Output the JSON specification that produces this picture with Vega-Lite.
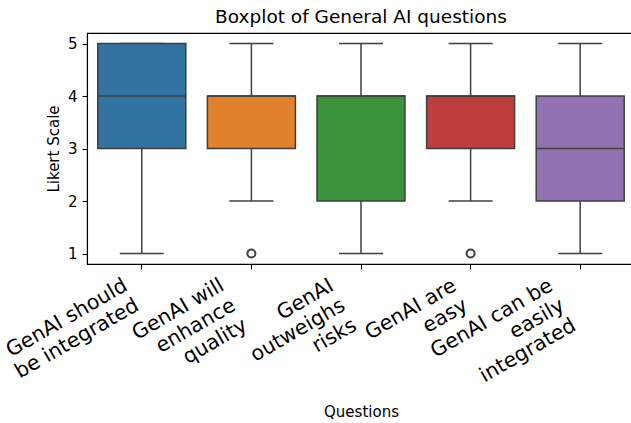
{
  "$schema": "https://vega.github.io/schema/vega-lite/v6.json",
  "width": 548,
  "height": 231,
  "autosize": {"type": "none"},
  "padding": {"left": 87, "top": 33, "right": 0, "bottom": 159},
  "title": {"text": "Boxplot of General AI questions", "fontSize": 18.5, "font": "DejaVu Sans", "fontWeight": "normal", "offset": 7, "anchor": "middle", "color": "#000000"},
  "config": {
    "font": "DejaVu Sans",
    "view": {"stroke": "#000000", "strokeWidth": 1.1},
    "axis": {"grid": false, "domainColor": "#000000", "domainWidth": 1.1, "tickColor": "#000000", "tickWidth": 1.1, "tickSize": 5, "labelColor": "#000000", "titleColor": "#000000", "labelFont": "DejaVu Sans", "titleFont": "DejaVu Sans", "titleFontWeight": "normal"}
  },
  "datasets": {
    "stats": [
      {"question": "GenAI should\nbe integrated", "lo": 1, "q1": 3, "med": 4, "q3": 5, "hi": 5},
      {"question": "GenAI will\nenhance\nquality", "lo": 2, "q1": 3, "med": 4, "q3": 4, "hi": 5},
      {"question": "GenAI\noutweighs\nrisks", "lo": 1, "q1": 2, "med": 4, "q3": 4, "hi": 5},
      {"question": "GenAI are\neasy", "lo": 2, "q1": 3, "med": 4, "q3": 4, "hi": 5},
      {"question": "GenAI can be\neasily\nintegrated", "lo": 1, "q1": 2, "med": 3, "q3": 4, "hi": 5}
    ],
    "outliers": [
      {"question": "GenAI will\nenhance\nquality", "value": 1},
      {"question": "GenAI are\neasy", "value": 1}
    ]
  },
  "data": {"name": "stats"},
  "encoding": {
    "x": {
      "field": "question", "type": "nominal", "sort": null,
      "scale": {"paddingInner": 0, "paddingOuter": 0},
      "axis": {
        "title": "Questions", "titleFontSize": 15, "titlePadding": 3,
        "labelAngle": -30, "labelAlign": "right", "labelBaseline": "top",
        "labelFontSize": 20.5, "labelLineHeight": 23, "labelPadding": 6,
        "labelExpr": "split(datum.label, '\\n')",
        "labelOffset": {"condition": {"test": "length(split(datum.value, '\\n')) == 2", "value": -21}, "value": -34}
      }
    }
  },
  "layer": [
    {
      "mark": {"type": "rule", "color": "#3f3f3f", "strokeWidth": 1.5},
      "encoding": {
        "y": {"field": "lo", "type": "quantitative", "scale": {"domain": [0.8, 5.2], "nice": false, "zero": false},
          "axis": {"title": "Likert Scale", "titleFontSize": 15, "titlePadding": 6, "labelFontSize": 15, "labelPadding": 5, "values": [1, 2, 3, 4, 5], "format": "d"}},
        "y2": {"field": "q1"}
      }
    },
    {
      "mark": {"type": "rule", "color": "#3f3f3f", "strokeWidth": 1.5},
      "encoding": {"y": {"field": "q3", "type": "quantitative"}, "y2": {"field": "hi"}}
    },
    {
      "mark": {"type": "tick", "color": "#3f3f3f", "thickness": 1.5, "size": 44, "opacity": 1},
      "encoding": {"y": {"field": "lo", "type": "quantitative"}}
    },
    {
      "mark": {"type": "tick", "color": "#3f3f3f", "thickness": 1.5, "size": 44, "opacity": 1},
      "encoding": {"y": {"field": "hi", "type": "quantitative"}}
    },
    {
      "mark": {"type": "bar", "size": 88, "stroke": "#3f3f3f", "strokeWidth": 1.5, "opacity": 1},
      "encoding": {
        "y": {"field": "q1", "type": "quantitative"},
        "y2": {"field": "q3"},
        "fill": {"field": "question", "type": "nominal", "sort": null, "legend": null,
          "scale": {"range": ["#3274a1", "#e1812c", "#3a923a", "#c03d3e", "#9372b2"]}}
      }
    },
    {
      "mark": {"type": "tick", "color": "#3f3f3f", "thickness": 1.5, "size": 88, "opacity": 1},
      "encoding": {"y": {"field": "med", "type": "quantitative"}}
    },
    {
      "data": {"name": "outliers"},
      "mark": {"type": "point", "shape": "circle", "filled": false, "size": 64, "stroke": "#3f3f3f", "strokeWidth": 2, "opacity": 1},
      "encoding": {"y": {"field": "value", "type": "quantitative"}}
    }
  ]
}
